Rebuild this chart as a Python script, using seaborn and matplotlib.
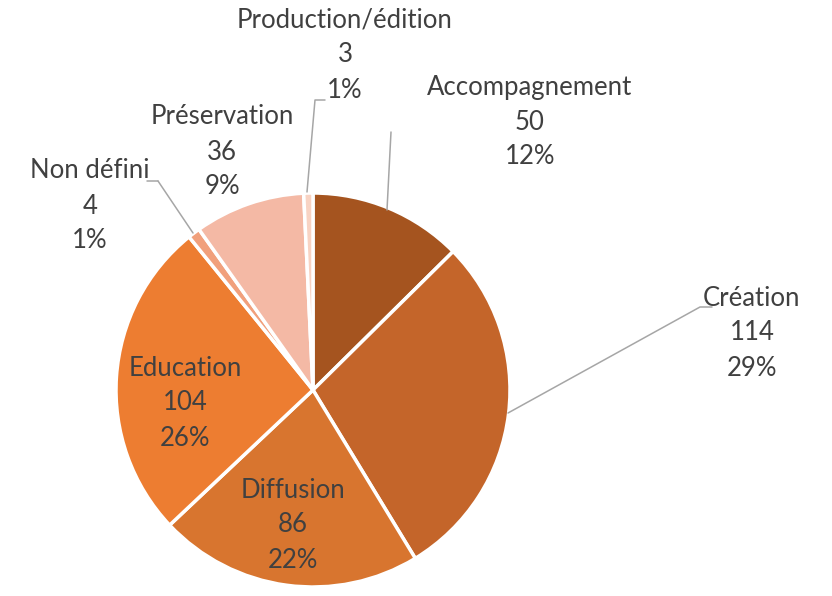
import matplotlib
matplotlib.use("Agg")
import matplotlib.pyplot as plt
import seaborn as sns

# données
categories = ["Accompagnement", "Création", "Diffusion", "Education",
              "Non défini", "Préservation", "Production/édition"]
valeurs = [50, 114, 86, 104, 4, 36, 3]
pourcentages = ["12%", "29%", "22%", "26%", "1%", "9%", "1%"]
couleurs = ["#A5541F", "#C4652A", "#D8752F", "#ED7D31",
            "#F1A07C", "#F4B9A5", "#F8D3C3"]

sns.set_theme(style="white")
plt.rcParams["font.family"] = ["Lato", "DejaVu Sans"]

W, H = 832, 596
fig = plt.figure(figsize=(W / 100, H / 100), dpi=100)
ax = fig.add_axes([0, 0, 1, 1])

cx, cy, r = 313, H - 390, 197
ax.pie(valeurs, colors=couleurs, startangle=90, counterclock=False,
       center=(cx, cy), radius=r, frame=True,
       wedgeprops=dict(edgecolor="white", linewidth=2.5))
ax.set_xlim(0, W)
ax.set_ylim(0, H)
ax.set_aspect("equal")
ax.axis("off")

# positions des étiquettes (pixels, origine en haut)
pos_labels = [(530, 122), (752, 333), (293, 525), (185, 403),
              (90, 206), (222, 152), (345, 55)]
for cat, v, p, (x, y) in zip(categories, valeurs, pourcentages, pos_labels):
    ax.text(x, H - y, f"{cat}\n{v}\n{p}", ha="center", va="center",
            fontsize=18.5, color="#404040", linespacing=1.5)

# lignes de rappel
lignes = [
    [(391, 132), (387, 210)],
    [(508, 413), (700, 307), (712, 307)],
    [(158, 181), (147, 181)],
    [(193, 233), (158, 181)],
    [(307, 192), (315, 100), (325, 100)],
]
for pts in lignes:
    ax.plot([p[0] for p in pts], [H - p[1] for p in pts],
            color="#A6A6A6", linewidth=1.1)

fig.savefig("out.png", dpi=100)
